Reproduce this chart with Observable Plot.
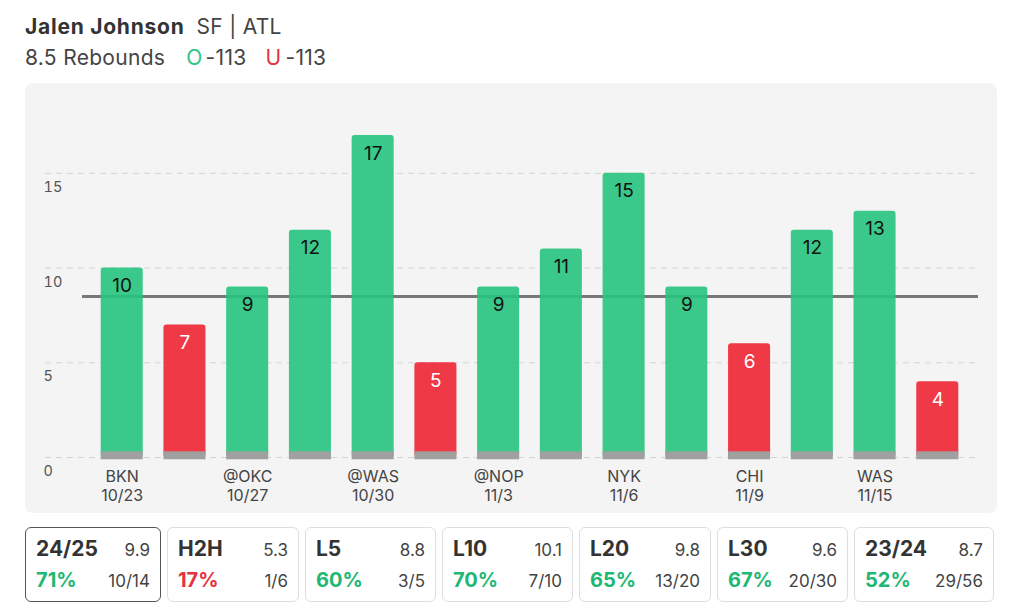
<!DOCTYPE html>
<html><head><meta charset="utf-8">
<script src="https://cdn.jsdelivr.net/npm/d3@7"></script>
<script src="https://cdn.jsdelivr.net/npm/@observablehq/plot@0.6"></script>
<style>
body{margin:0;background:#fff;font-family:Inter,"Noto Sans",sans-serif;color:#333;width:1024px;height:615px;position:relative;overflow:hidden}
#title{position:absolute;left:25px;top:17px;font-size:21px;line-height:20px;white-space:nowrap}
#title b{font-weight:700;color:#333;letter-spacing:0.75px}
#title span{color:#444;margin-left:12px;letter-spacing:0.3px}
#sub{position:absolute;left:25px;top:48px;font-size:21px;line-height:20px;color:#444;white-space:nowrap;letter-spacing:0.3px}
#sub .o{color:#2fc383;margin-left:21px;margin-right:3px}
#sub .u{color:#e8323f;margin-left:19px;margin-right:4px}
#panel{position:absolute;left:25px;top:83px;width:972px;height:430px;background:#f4f4f4;border-radius:8px}
#stats{position:absolute;left:25px;top:527px;display:flex;gap:6px}
.box{box-sizing:border-box;height:75px;border:1.5px solid #dedede;border-radius:6px;background:#fff;padding:8px 10px 0 10px}
.box.sel{border-color:#555}
.row{display:flex;justify-content:space-between;align-items:baseline}
.lab{font-size:21px;font-weight:700;color:#333}
.avg{font-size:17px;color:#444}
.pct{font-size:20px;font-weight:700}
.hit{font-size:17px;color:#444}
.row2{margin-top:7px}
</style></head><body>
<div id="title"><b>Jalen Johnson</b><span>SF | ATL</span></div>
<div id="sub">8.5 Rebounds<span class="o">O</span>-113<span class="u">U</span>-113</div>
<div id="panel"></div>
<div id="stats"></div>
<script>
const games = d3.range(14);
const values = [10, 7, 9, 12, 17, 5, 9, 11, 15, 9, 6, 12, 13, 4];
const opponents = ["BKN", "", "@OKC", "", "@WAS", "", "@NOP", "", "NYK", "", "CHI", "", "WAS", ""];
const dates = ["10/23", "", "10/27", "", "10/30", "", "11/3", "", "11/6", "", "11/9", "", "11/15", ""];
const line = 8.5;
const yTicks = [0, 5, 10, 15];
const xTicks = [0, 2, 4, 6, 8, 10, 12];

const statLabels = ["24/25", "H2H", "L5", "L10", "L20", "L30", "23/24"];
const statAvgs = ["9.9", "5.3", "8.8", "10.1", "9.8", "9.6", "8.7"];
const statPcts = [71, 17, 60, 70, 65, 67, 52];
const statHits = ["10/14", "1/6", "3/5", "7/10", "13/20", "20/30", "29/56"];

const GREEN = "#26c47f", RED = "#ee2534";
const data = games.map(i => ({i, v: values[i], over: values[i] > line}));

const chart = Plot.plot({
  width: 972, height: 430,
  marginLeft: 20, marginRight: 19, marginTop: 33, marginBottom: 56,
  style: {fontFamily: "Inter, 'Noto Sans', sans-serif", background: "transparent", overflow: "visible"},
  x: {domain: games, range: [55, 954], padding: 0.33, round: false, axis: null, label: null},
  y: {domain: [0, 18], axis: null, label: null},
  marks: [
    Plot.gridY(yTicks, {stroke: "#d4d4d4", strokeOpacity: 1, strokeDasharray: "6,5"}),
    Plot.axisY(yTicks, {label: null, tickSize: 0, tickPadding: 0, textAnchor: "start", dx: -2, dy: 14, fontSize: 14.5, fill: "#555"}),
    Plot.axisX(xTicks, {label: null, tickSize: 0, tickPadding: 11, fontSize: 16, fill: "#444", lineHeight: 1.2,
      tickFormat: i => opponents[i] + "\n" + dates[i]}),
    Plot.ruleY([line], {stroke: "#777", strokeWidth: 3, insetLeft: 37}),
    Plot.barY(data, {x: "i", y: "v", fill: d => d.over ? GREEN : RED, fillOpacity: 0.9, rx: 3}),
    Plot.barY(data, {x: "i", y1: -0.12, y2: 0.3, fill: "#a0a0a0"}),
    Plot.text(data, {x: "i", y: "v", text: d => String(d.v), dy: 18, fontSize: 19,
      fill: d => d.over ? "#111" : "#fff"})
  ]
});
document.getElementById("panel").appendChild(chart);

const widths = [136, 132, 131, 131, 132, 131, 140];
const stats = document.getElementById("stats");
statLabels.forEach((lab, k) => {
  const b = document.createElement("div");
  b.className = "box" + (k === 0 ? " sel" : "");
  b.style.width = widths[k] + "px";
  const col = statPcts[k] >= 50 ? "#1eb874" : "#e8323f";
  b.innerHTML = `<div class="row"><span class="lab">${lab}</span><span class="avg">${statAvgs[k]}</span></div>
  <div class="row row2"><span class="pct" style="color:${col}">${statPcts[k]}%</span><span class="hit">${statHits[k]}</span></div>`;
  stats.appendChild(b);
});
</script>
</body></html>
